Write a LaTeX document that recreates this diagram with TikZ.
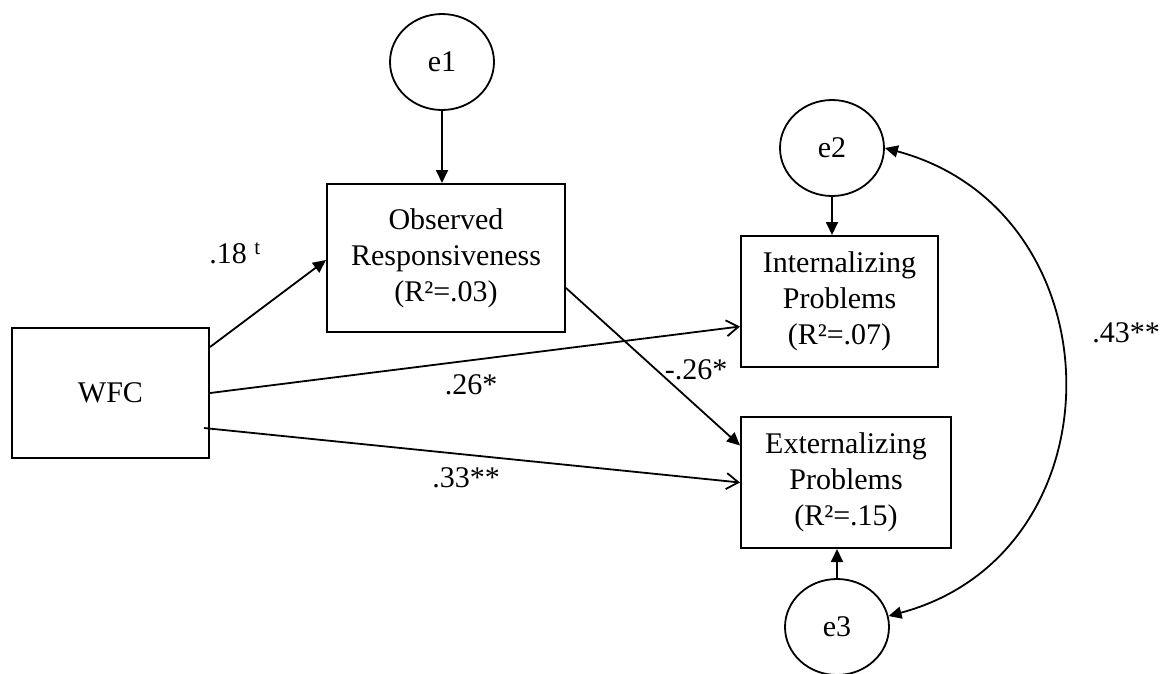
\documentclass[tikz,border=0pt]{standalone}
\usepackage{fontspec}
\setmainfont{Liberation Serif}
\usetikzlibrary{arrows.meta,shapes.geometric,positioning}

\begin{document}
\begin{tikzpicture}[x=1pt,y=-1pt,
  font=\fontsize{30}{36}\selectfont,
  var/.style={draw,line width=2pt,rectangle,align=center,inner sep=0pt},
  err/.style={draw,line width=1.8pt,ellipse,minimum width=104pt,minimum height=96pt,inner sep=0pt},
  path/.style={line width=1.8pt,-{Triangle[length=13pt,width=12pt]}},
  open/.style={line width=1.8pt,-{Straight Barb[length=12pt,width=16pt]}},
  coef/.style={inner sep=0pt}]

\useasboundingbox (0,0) rectangle (1163,673);
\clip (0,0) rectangle (1163,673);

% --- observed variables ---
\node[var,minimum width=197pt,minimum height=130pt] (wfc) at (110.5,393) {WFC};
\node[var,minimum width=238pt,minimum height=148pt] (obs) at (446,258) {Observed\\Responsiveness\\(R²=.03)};
\node[var,minimum width=197pt,minimum height=131pt] (int) at (839.5,301.5) {Internalizing\\Problems\\(R²=.07)};
\node[var,minimum width=210pt,minimum height=131pt] (ext) at (846,482.5) {Externalizing\\Problems\\(R²=.15)};

% --- error terms ---
\node[err] (e1) at (442,62) {e1};
\node[err] (e2) at (832,148) {e2};
\node[err] (e3) at (837,627) {e3};

\draw[path] (e1) -- (e1 |- obs.north);
\draw[path] (e2) -- (e2 |- int.north);
\draw[path] (e3) -- (e3 |- ext.south);

% --- paths ---
\draw[path] ([yshift=46pt]wfc.east) -- ([yshift=-2pt]obs.west);
\draw[open] (wfc.east) -- ([yshift=-25pt]int.west);
\draw[open] ([xshift=-6pt,yshift=-35pt]wfc.east) -- (ext.west);
\draw[path] ([yshift=-30pt]obs.east) -- ([yshift=37pt]ext.west);
\draw[line width=1.8pt,{Triangle[length=13pt,width=12pt]}-{Triangle[length=13pt,width=12pt]}]
  (e2.east) to[out=-15,in=15,looseness=1.33] (e3.12);

% --- coefficients ---
\node[coef] (b1) at (235,253) {.18 \textsuperscript{t}};
\node[coef] (b2) at (471,385) {.26*};
\node[coef] (b3) at (696,370) {-.26*};
\node[coef] (b4) at (466,478) {.33**};
\node[coef] (b5) at (1126,333) {.43**};

\end{tikzpicture}
\end{document}
